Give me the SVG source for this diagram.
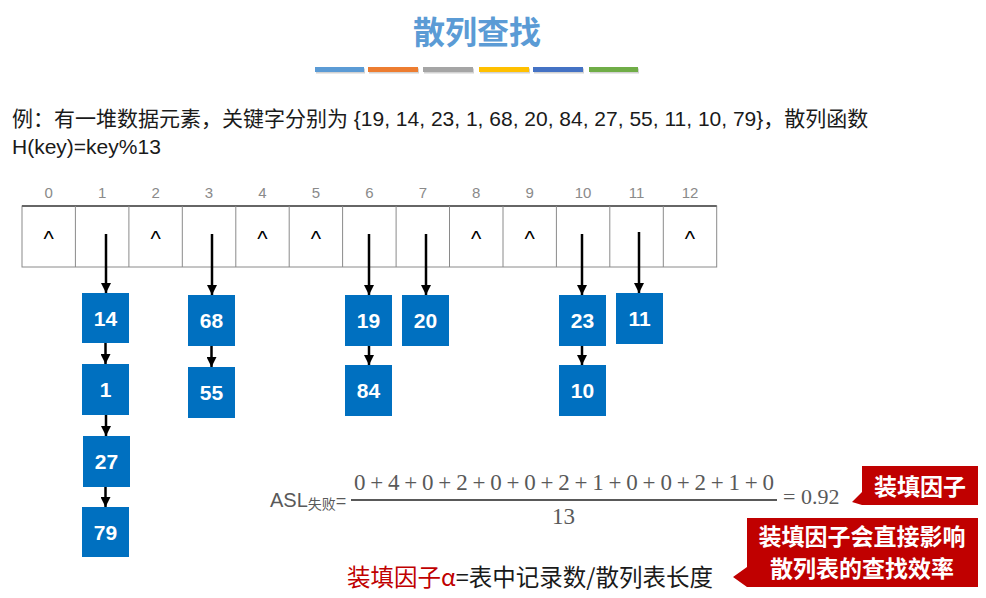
<svg xmlns="http://www.w3.org/2000/svg" width="986" height="598" viewBox="0 0 986 598">
<defs>
<marker id="ah" viewBox="0 0 10 10" refX="10" refY="5" markerWidth="10" markerHeight="10" markerUnits="userSpaceOnUse" orient="auto">
<path d="M0,0 L10,5 L0,10 Z" fill="#000"/>
</marker>
<style>
.cn{font-family:"Liberation Sans","Noto Sans CJK SC",sans-serif;}
.idx{font-family:"Liberation Sans",sans-serif;font-size:15px;fill:#8a8a8a;text-anchor:middle;}
.car{font-family:"Liberation Sans",sans-serif;font-size:22px;fill:#000;text-anchor:middle;}
.nd rect{fill:#0070C0;}
.nd text{font-family:"Liberation Sans",sans-serif;font-size:21px;font-weight:bold;fill:#fff;text-anchor:middle;}
.ar{stroke:#000;stroke-width:2.5;fill:none;marker-end:url(#ah);}
.cell{stroke:#8a8a8a;stroke-width:1;fill:none;}
.call{fill:#C00000;}
.ct{font-family:"Noto Sans CJK SC",sans-serif;font-size:23px;font-weight:bold;fill:#fff;text-anchor:middle;}
.ser{font-family:"Liberation Serif",serif;fill:#595959;}
</style>
</defs>
<rect width="986" height="598" fill="#fff"/>

<g id="title">
<text x="477" y="44" text-anchor="middle" font-family="Noto Sans CJK SC, sans-serif" font-size="32" font-weight="bold" fill="#5B9BD5">散列查找</text>
<g opacity="0.35" fill="#7f7f7f">
<rect x="316" y="68.5" width="49" height="5"/><rect x="369" y="68.5" width="50" height="5"/><rect x="424" y="68.5" width="50" height="5"/><rect x="480" y="68.5" width="50" height="5"/><rect x="534" y="68.5" width="50" height="5"/><rect x="590" y="68.5" width="49" height="5"/>
</g>
<rect x="315" y="67" width="49" height="5" fill="#5B9BD5"/>
<rect x="368" y="67" width="50" height="5" fill="#ED7D31"/>
<rect x="423" y="67" width="50" height="5" fill="#A5A5A5"/>
<rect x="479" y="67" width="50" height="5" fill="#FFC000"/>
<rect x="533" y="67" width="50" height="5" fill="#4472C4"/>
<rect x="589" y="67" width="49" height="5" fill="#70AD47"/>
</g>

<g id="intro" class="cn" font-size="21" fill="#1a1a1a">
<text x="12" y="126">例：有一堆数据元素，关键字分别为 {19, 14, 23, 1, 68, 20, 84, 27, 55, 11, 10, 79}，散列函数</text>
<text x="12" y="154">H(key)=key%13</text>
</g>

<g id="table">
<rect class="cell" x="22" y="206" width="694.7" height="61"/>
<line x1="22" y1="206" x2="716.7" y2="206" stroke="#666" stroke-width="2"/>
<g class="cell">
<line x1="75.4" y1="206" x2="75.4" y2="267"/><line x1="128.9" y1="206" x2="128.9" y2="267"/><line x1="182.3" y1="206" x2="182.3" y2="267"/><line x1="235.8" y1="206" x2="235.8" y2="267"/><line x1="289.2" y1="206" x2="289.2" y2="267"/><line x1="342.6" y1="206" x2="342.6" y2="267"/><line x1="396.1" y1="206" x2="396.1" y2="267"/><line x1="449.5" y1="206" x2="449.5" y2="267"/><line x1="503" y1="206" x2="503" y2="267"/><line x1="556.4" y1="206" x2="556.4" y2="267"/><line x1="609.8" y1="206" x2="609.8" y2="267"/><line x1="663.3" y1="206" x2="663.3" y2="267"/>
</g>
<g class="idx">
<text x="48.7" y="198">0</text><text x="102.2" y="198">1</text><text x="155.6" y="198">2</text><text x="209" y="198">3</text><text x="262.5" y="198">4</text><text x="315.9" y="198">5</text><text x="369.4" y="198">6</text><text x="422.8" y="198">7</text><text x="476.2" y="198">8</text><text x="529.7" y="198">9</text><text x="583.1" y="198">10</text><text x="636.6" y="198">11</text><text x="690" y="198">12</text>
</g>
<g class="car">
<text x="48.7" y="246">^</text><text x="155.6" y="246">^</text><text x="262.5" y="246">^</text><text x="315.9" y="246">^</text><text x="476.2" y="246">^</text><text x="529.7" y="246">^</text><text x="690" y="246">^</text>
</g>
</g>

<g id="n14" class="nd"><rect x="82" y="293" width="47" height="50"/><text x="105.5" y="326">14</text></g>
<g id="n1" class="nd"><rect x="82" y="364" width="47" height="51"/><text x="105.5" y="397">1</text></g>
<g id="n27" class="nd"><rect x="83" y="436" width="47" height="51"/><text x="106.5" y="469">27</text></g>
<g id="n79" class="nd"><rect x="82" y="507" width="47" height="50"/><text x="105.5" y="540">79</text></g>
<g id="n68" class="nd"><rect x="188" y="295" width="47" height="51"/><text x="211.5" y="328">68</text></g>
<g id="n55" class="nd"><rect x="188" y="367" width="47" height="51"/><text x="211.5" y="400">55</text></g>
<g id="n19" class="nd"><rect x="345" y="295" width="47" height="51"/><text x="368.5" y="328">19</text></g>
<g id="n84" class="nd"><rect x="345" y="365" width="47" height="51"/><text x="368.5" y="398">84</text></g>
<g id="n20" class="nd"><rect x="402" y="295" width="47" height="51"/><text x="425.5" y="328">20</text></g>
<g id="n23" class="nd"><rect x="559" y="295" width="47" height="51"/><text x="582.5" y="328">23</text></g>
<g id="n10" class="nd"><rect x="559" y="365" width="47" height="51"/><text x="582.5" y="398">10</text></g>
<g id="n11" class="nd"><rect x="616" y="293" width="47" height="51"/><text x="639.5" y="326">11</text></g>

<g id="connectors">
<line class="ar" x1="106" y1="234" x2="106" y2="293"/>
<line class="ar" x1="105.5" y1="343" x2="105.5" y2="364"/>
<line class="ar" x1="106" y1="415" x2="106" y2="436"/>
<line class="ar" x1="105.5" y1="487" x2="105.5" y2="507"/>
<line class="ar" x1="212" y1="234" x2="212" y2="295"/>
<line class="ar" x1="211.5" y1="346" x2="211.5" y2="367"/>
<line class="ar" x1="369" y1="234" x2="369" y2="295"/>
<line class="ar" x1="369" y1="346" x2="369" y2="365"/>
<line class="ar" x1="426" y1="234" x2="426" y2="295"/>
<line class="ar" x1="582" y1="234" x2="582" y2="295"/>
<line class="ar" x1="582" y1="346" x2="582" y2="365"/>
<line class="ar" x1="639" y1="232" x2="639" y2="293"/>
</g>

<g id="formula">
<text x="270" y="507" font-family="Liberation Sans, sans-serif" font-size="20" fill="#595959">ASL<tspan font-family="Noto Sans CJK SC, sans-serif" font-size="14" dy="2">失败</tspan><tspan font-size="18" dy="-2">=</tspan></text>
<line x1="351" y1="500" x2="777" y2="500" stroke="#595959" stroke-width="2"/>
<text class="ser" x="354" y="490" font-size="23" textLength="420" lengthAdjust="spacing">0 + 4 + 0 + 2 + 0 + 0 + 2 + 1 + 0 + 0 + 2 + 1 + 0</text>
<text class="ser" x="563.5" y="524" font-size="23" text-anchor="middle">13</text>
<text class="ser" x="783" y="504" font-size="22">= 0.92</text>
</g>

<g id="callout1">
<path class="call" d="M862,466 H978 V505 H862 L852,502 L862,492 Z"/>
<text class="ct" x="920" y="495">装填因子</text>
</g>

<g id="callout2">
<path class="call" d="M747,518 H978 V587 H747 L733,577 L747,567 Z"/>
<text class="ct" x="862" y="545">装填因子会直接影响</text>
<text class="ct" x="862" y="577">散列表的查找效率</text>
</g>

<g id="loadfactor">
<text x="347" y="586" font-family="Noto Sans CJK SC, sans-serif" font-size="23.5" fill="#1a1a1a"><tspan fill="#C00000">装填因子α</tspan>=表中记录数/散列表长度</text>
</g>
</svg>
